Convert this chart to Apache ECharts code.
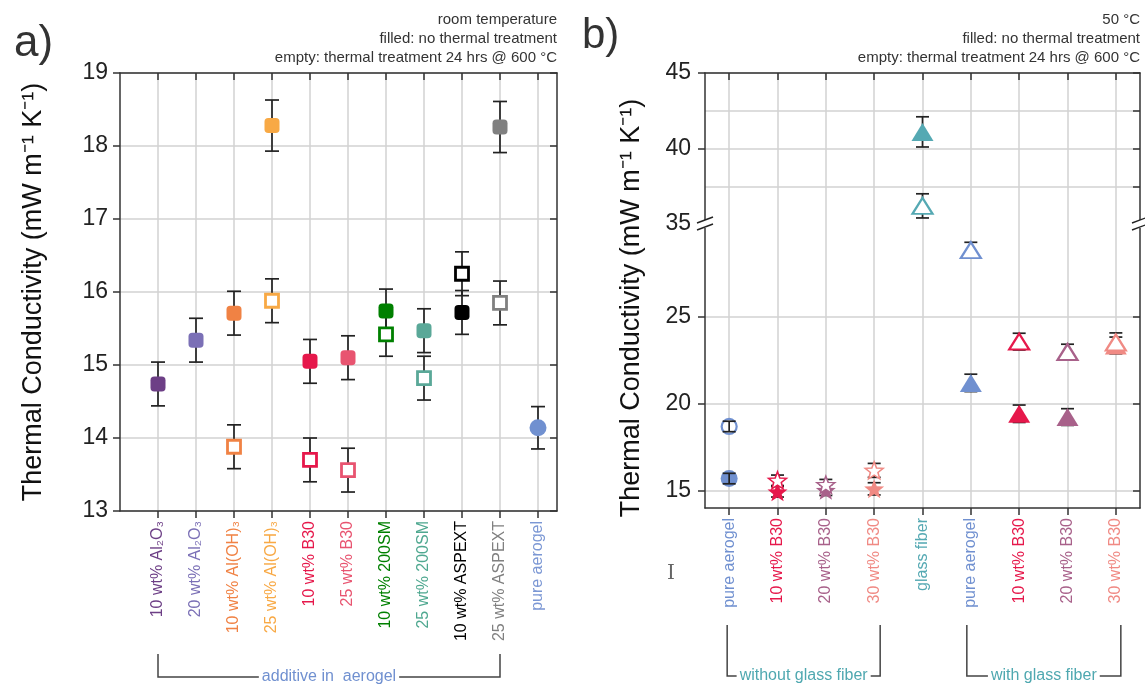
<!DOCTYPE html>
<html><head><meta charset="utf-8">
<script src="https://cdn.jsdelivr.net/npm/echarts@6/dist/echarts.min.js"></script>
<style>html,body{margin:0;padding:0;background:#fff}#c{width:1145px;height:686px}</style>
</head><body><div id="c"></div>
<script>
// ---------- Panel a data (room temperature) ----------
const catsA = ['10 wt% Al₂O₃', '20 wt% Al₂O₃', '10 wt% Al(OH)₃', '25 wt% Al(OH)₃', '10 wt% B30', '25 wt% B30', '10 wt% 200SM', '25 wt% 200SM', '10 wt% ASPEXT', '25 wt% ASPEXT', 'pure aerogel'];
const colorsA = ['#6d3f86', '#7b70b6', '#f08244', '#f8a945', '#e6184b', '#e85470', '#008000', '#5aa898', '#000000', '#808080', '#7090d0'];
const labelColorsA = ['#6d3f86', '#7b70b6', '#f08244', '#f8a945', '#e6184b', '#e85470', '#008000', '#4fa890', '#000000', '#808080', '#7b97d4'];
const symbolsA = ['roundRect', 'roundRect', 'roundRect', 'roundRect', 'roundRect', 'roundRect', 'roundRect', 'roundRect', 'roundRect', 'roundRect', 'circle'];
const filledA = [14.74, 15.34, 15.71, 18.28, 15.05, 15.10, 15.74, 15.47, 15.72, 18.26, 14.14];
const filledErrA = [0.30, 0.30, 0.30, 0.35, 0.30, 0.30, 0.30, 0.30, 0.30, 0.35, 0.29];
const emptyA = [null, null, 13.88, 15.88, 13.70, 13.56, 15.42, 14.82, 16.25, 15.85, null];
const emptyErrA = [null, null, 0.30, 0.30, 0.30, 0.30, 0.30, 0.30, 0.30, 0.30, null];
const yTicksA = [13, 14, 15, 16, 17, 18, 19];

// ---------- Panel b data (50 °C) ----------
const catsB = ['pure aerogel', '10 wt% B30', '20 wt% B30', '30 wt% B30', 'glass fiber', 'pure aerogel', '10 wt% B30', '20 wt% B30', '30 wt% B30'];
const colorsB = ['#7090d0', '#e6184b', '#a8618a', '#f08a84', '#55a9b3', '#7090d0', '#e6184b', '#a8618a', '#f08a84'];
const symbolsB = ['circle', 'star', 'star', 'star', 'triangle', 'triangle', 'triangle', 'triangle', 'triangle'];
const filledB = [15.69, 14.93, 15.02, 15.10, 41.10, 21.18, 19.41, 19.22, 23.33];
const filledErrB = [0.30, 0.30, 0.30, 0.35, 1.00, 0.50, 0.50, 0.48, 0.48];
const emptyB = [18.68, 15.59, 15.34, 16.16, 36.20, 28.80, 23.55, 22.95, 23.50];
const emptyErrB = [0.30, 0.30, 0.30, 0.40, 0.80, 0.45, 0.48, 0.45, 0.55];
const yTicksBLow = [15, 20, 25];
const yTicksBHigh = [35, 40, 45];
const yGridBHigh = [37.5, 40, 42.5, 45];
const breakLow = 30.3, breakHigh = 35;

const FONT = '"Liberation Sans", Arial, Helvetica, sans-serif';
const AX = '#333';
const GRID = '#d2d2d2';

function starPath() {
  let p = '';
  for (let i = 0; i < 10; i++) {
    const r = i % 2 === 0 ? 50 : 21;
    const a = -Math.PI / 2 + i * Math.PI / 5;
    p += (i ? 'L' : 'M') + (50 + r * Math.cos(a)).toFixed(2) + ' ' + (50 + r * Math.sin(a)).toFixed(2) + ' ';
  }
  return 'path://' + p + 'Z';
}
const STAR = starPath();

function symFor(s) { return s === 'star' ? STAR : s; }
function sizeFor(s, hollow) {
  if (s === 'star') return hollow ? [18, 17] : [20, 19];
  if (s === 'triangle') return hollow ? [20, 16] : [22, 18];
  if (s === 'circle') return hollow ? 15 : 17;
  return hollow ? 13 : 15;
}

function errRender(capW) {
  return function (params, api) {
    const x = api.value(0), lo = api.value(1), hi = api.value(2);
    const p1 = api.coord([x, lo]), p2 = api.coord([x, hi]);
    const h = capW / 2;
    const st = { stroke: '#222', lineWidth: 1.7 };
    return {
      type: 'group', children: [
        { type: 'line', shape: { x1: p1[0], y1: p1[1], x2: p2[0], y2: p2[1] }, style: st },
        { type: 'line', shape: { x1: p1[0] - h, y1: p1[1], x2: p1[0] + h, y2: p1[1] }, style: st },
        { type: 'line', shape: { x1: p2[0] - h, y1: p2[1], x2: p2[0] + h, y2: p2[1] }, style: st }
      ]
    };
  };
}

// layout
const GA = { left: 120, top: 73, width: 437, height: 438 };
const GBU = { left: 705, top: 73, width: 435, height: 151 };
const GBL = { left: 705, top: 224, width: 435, height: 284 };

const xValsA = catsA.map((c, i) => i + 1);
const xValsB = catsB.map((c, i) => i + 1);

function pts(vals, errs, xs, filt) {
  const d = [], e = [];
  vals.forEach((v, i) => {
    if (v == null || !filt(v, i)) return;
    d.push({ idx: i, value: [xs[i], v] });
    e.push([xs[i], v - errs[i], v + errs[i]]);
  });
  return { d, e };
}

const series = [];
// Panel a
{
  const f = pts(filledA, filledErrA, xValsA, () => true);
  const m = pts(emptyA, emptyErrA, xValsA, () => true);
  series.push({ type: 'custom', xAxisIndex: 0, yAxisIndex: 0, renderItem: errRender(14), data: f.e.concat(m.e), z: 3, silent: true });
  series.push({ type: 'scatter', xAxisIndex: 0, yAxisIndex: 0, z: 5, data: f.d.map(p => ({ value: p.value, symbol: symbolsA[p.idx], symbolSize: sizeFor(symbolsA[p.idx], false), itemStyle: { color: colorsA[p.idx], opacity: 1 } })) });
  series.push({ type: 'scatter', xAxisIndex: 0, yAxisIndex: 0, z: 5, data: m.d.map(p => ({ value: p.value, symbol: 'rect', symbolSize: sizeFor(symbolsA[p.idx], true), itemStyle: { color: '#fff', borderColor: colorsA[p.idx], borderWidth: 2.8, opacity: 1 } })) });
}
// Panel b (upper: x 2 / y 1, lower: x 3 / y 2)
[[v => v >= breakHigh, 2, 1], [v => v <= breakLow, 3, 2]].forEach(([filt, xi, yi]) => {
  const isC = (v, i) => filt(v) && symbolsB[i] === 'circle';
  const notC = (v, i) => filt(v) && symbolsB[i] !== 'circle';
  const fUnder = pts(filledB, filledErrB, xValsB, notC), mUnder = pts(emptyB, emptyErrB, xValsB, notC);
  const fOver = pts(filledB, filledErrB, xValsB, isC), mOver = pts(emptyB, emptyErrB, xValsB, isC);
  const f = pts(filledB, filledErrB, xValsB, filt);
  const m = pts(emptyB, emptyErrB, xValsB, filt);
  series.push({ type: 'custom', xAxisIndex: xi, yAxisIndex: yi, renderItem: errRender(13), data: fUnder.e.concat(mUnder.e), z: 3, silent: true });
  series.push({ type: 'scatter', xAxisIndex: xi, yAxisIndex: yi, z: 4, data: f.d.map(p => ({ value: p.value, symbol: symFor(symbolsB[p.idx]), symbolSize: sizeFor(symbolsB[p.idx], false), itemStyle: { color: colorsB[p.idx], opacity: 1 } })) });
  series.push({ type: 'scatter', xAxisIndex: xi, yAxisIndex: yi, z: 5, data: m.d.map(p => ({ value: p.value, symbol: symFor(symbolsB[p.idx]), symbolSize: sizeFor(symbolsB[p.idx], true), itemStyle: { color: '#fff', borderColor: colorsB[p.idx], borderWidth: symbolsB[p.idx] === 'star' ? 1.5 : 2.2, opacity: 1 } })) });
  series.push({ type: 'custom', xAxisIndex: xi, yAxisIndex: yi, renderItem: errRender(13), data: fOver.e.concat(mOver.e), z: 6, silent: true });
});

const lineStyle = { color: AX, width: 1.5 };
const tickStyle = { color: AX, width: 1.5 };
const ylab = { fontSize: 23, color: '#222', fontFamily: FONT, margin: 12 };

const option = {
  animation: false,
  backgroundColor: '#fff',
  grid: [
    Object.assign({}, GA),
    Object.assign({}, GBU),
    Object.assign({}, GBL)
  ],
  xAxis: [
    { gridIndex: 0, type: 'value', position: 'bottom', min: 0, max: 11.5, interval: 1,
      axisLine: { show: true, onZero: false, lineStyle },
      axisTick: { show: true, inside: false, length: 7, customValues: xValsA, lineStyle: tickStyle },
      axisLabel: { show: true, customValues: xValsA, rotate: 90, margin: 10, fontSize: 16, fontFamily: FONT,
        formatter: v => catsA[Math.round(v) - 1] || '', color: v => labelColorsA[Math.round(Number(v)) - 1] || '#000' },
      splitLine: { show: true, lineStyle: { color: GRID, width: 1.5 } } },
    { gridIndex: 0, type: 'value', position: 'top', min: 0, max: 11.5, interval: 1,
      axisLine: { show: true, onZero: false, lineStyle },
      axisTick: { show: true, inside: true, length: 7, customValues: xValsA, lineStyle: tickStyle },
      axisLabel: { show: false }, splitLine: { show: false } },
    { gridIndex: 1, type: 'value', position: 'top', min: 0.5, max: 9.5,
      axisLine: { show: true, onZero: false, lineStyle },
      axisTick: { show: true, inside: true, length: 7, customValues: xValsB, lineStyle: tickStyle },
      axisLabel: { show: false },
      splitLine: { show: true, lineStyle: { color: GRID, width: 1.5 } } },
    { gridIndex: 2, type: 'value', position: 'bottom', min: 0.5, max: 9.5,
      axisLine: { show: true, onZero: false, lineStyle },
      axisTick: { show: true, inside: false, length: 7, customValues: xValsB, lineStyle: tickStyle },
      axisLabel: { show: true, customValues: xValsB, rotate: 90, margin: 10, fontSize: 16, fontFamily: FONT,
        formatter: v => catsB[Math.round(v) - 1] || '', color: v => colorsB[Math.round(Number(v)) - 1] || '#000' },
      splitLine: { show: true, lineStyle: { color: GRID, width: 1.5 } } }
  ],
  yAxis: [
    { gridIndex: 0, type: 'value', position: 'left', min: 13, max: 19, interval: 1,
      axisLine: { show: true, onZero: false, lineStyle },
      axisTick: { show: true, inside: false, length: 7, lineStyle: tickStyle },
      axisLabel: Object.assign({ customValues: yTicksA }, ylab),
      splitLine: { show: true, lineStyle: { color: GRID, width: 1.5 } } },
    { gridIndex: 1, type: 'value', position: 'left', min: breakHigh, max: 45, interval: 2.5,
      axisLine: { show: true, onZero: false, lineStyle },
      axisTick: { show: true, inside: false, length: 7, customValues: [40, 45], lineStyle: tickStyle },
      axisLabel: { customValues: yTicksBHigh, margin: 14, fontSize: 23, color: '#222', fontFamily: FONT },
      splitLine: { show: false } },
    { gridIndex: 2, type: 'value', position: 'left', min: 14, max: breakLow,
      axisLine: { show: true, onZero: false, lineStyle },
      axisTick: { show: true, inside: false, length: 7, customValues: yTicksBLow, lineStyle: tickStyle },
      axisLabel: { customValues: yTicksBLow, margin: 14, fontSize: 23, color: '#222', fontFamily: FONT },
      splitLine: { show: true, lineStyle: { color: GRID, width: 1.5 } } },
    { gridIndex: 0, type: 'value', position: 'right', min: 13, max: 19, interval: 1,
      axisLine: { show: true, onZero: false, lineStyle },
      axisTick: { show: true, inside: true, length: 7, lineStyle: tickStyle },
      axisLabel: { show: false }, splitLine: { show: false } },
    { gridIndex: 1, type: 'value', position: 'right', min: breakHigh, max: 45, interval: 2.5,
      axisLine: { show: true, onZero: false, lineStyle },
      axisTick: { show: true, inside: true, length: 7, customValues: yGridBHigh, lineStyle: tickStyle },
      axisLabel: { show: false },
      splitLine: { show: true, lineStyle: { color: GRID, width: 1.5 } } },
    { gridIndex: 2, type: 'value', position: 'right', min: 14, max: breakLow,
      axisLine: { show: true, onZero: false, lineStyle },
      axisTick: { show: true, inside: true, length: 7, customValues: yTicksBLow, lineStyle: tickStyle },
      axisLabel: { show: false }, splitLine: { show: false } }
  ],
  series: series
};

const chart = echarts.init(document.getElementById('c'), null, { renderer: 'canvas' });
chart.setOption(option);

// ---------- annotations ----------
const g = [];
const txt = (x, y, text, o) => g.push({ type: 'text', x, y, z: 20, style: Object.assign({ text, fontFamily: FONT, fill: '#333', fontSize: 15, textAlign: 'right', textVerticalAlign: 'middle' }, o || {}) });

txt(14, 44, 'a)', { fontSize: 44, textAlign: 'left', fill: '#333' });
txt(582, 36, 'b)', { fontSize: 42, textAlign: 'left', fill: '#333' });
const rA = GA.left + GA.width, rB = GBU.left + GBU.width;
txt(rA, 20, 'room temperature');
txt(rA, 39, 'filled: no thermal treatment');
txt(rA, 58, 'empty: thermal treatment 24 hrs @ 600 °C');
txt(rB, 20, '50 °C');
txt(rB, 39, 'filled: no thermal treatment');
txt(rB, 58, 'empty: thermal treatment 24 hrs @ 600 °C');

const yTitle = 'Thermal Conductivity (mW m⁻¹ K⁻¹)';
g.push({ type: 'text', x: 34, y: GA.top + GA.height / 2, rotation: Math.PI / 2, z: 20,
  style: { text: yTitle, fontFamily: FONT, fontSize: 27, fill: '#111', textAlign: 'center', textVerticalAlign: 'middle' } });
g.push({ type: 'text', x: 632, y: 308, rotation: Math.PI / 2, z: 20,
  style: { text: yTitle, fontFamily: FONT, fontSize: 27, fill: '#111', textAlign: 'center', textVerticalAlign: 'middle' } });

// error-bar glyph at panel b left
g.push({ type: 'text', x: 671, y: 574, z: 20, style: { text: 'I', fontFamily: '"DejaVu Serif", "Liberation Serif", serif', fontSize: 20, fill: '#666', textAlign: 'center', textVerticalAlign: 'middle' } });

// brackets
function bracket(xAxisIndex, i0, i1, yTop, yBot, label, color, dx0, dx1) {
  const x0 = chart.convertToPixel({ xAxisIndex }, i0) + (dx0 || 0);
  const x1 = chart.convertToPixel({ xAxisIndex }, i1) + (dx1 || 0);
  const st = { stroke: '#444', lineWidth: 1.5, fill: null };
  g.push({ type: 'polyline', z: 18, shape: { points: [[x0, yTop], [x0, yBot], [x1, yBot], [x1, yTop]] }, style: st });
  g.push({ type: 'text', x: (x0 + x1) / 2, y: yBot, z: 19,
    style: { text: label, fontFamily: FONT, fontSize: 16, fill: color, textAlign: 'center', textVerticalAlign: 'middle', backgroundColor: '#fff', padding: [0, 3] } });
}
bracket(0, 1, 10, 654, 677, 'additive in  aerogel', '#7090d0', 0, 0);
bracket(3, 1, 4, 625, 676, 'without glass fiber', '#4fa8b0', -2, 6);
bracket(3, 6, 9, 625, 676, 'with glass fiber', '#4fa8b0', -4, 5);

// axis break marks
function brk(x, y) {
  g.push({ type: 'rect', z: 21, shape: { x: x - 4, y: y - 4, width: 8, height: 8 }, style: { fill: '#fff' } });
  g.push({ type: 'line', z: 22, shape: { x1: x - 8, y1: y - 1, x2: x + 8, y2: y - 7 }, style: { stroke: '#222', lineWidth: 1.4 } });
  g.push({ type: 'line', z: 22, shape: { x1: x - 8, y1: y + 6, x2: x + 8, y2: y + 0 }, style: { stroke: '#222', lineWidth: 1.4 } });
}
brk(GBU.left, GBL.top);
brk(GBU.left + GBU.width, GBL.top);

chart.setOption({ graphic: g });
</script>
</body></html>
